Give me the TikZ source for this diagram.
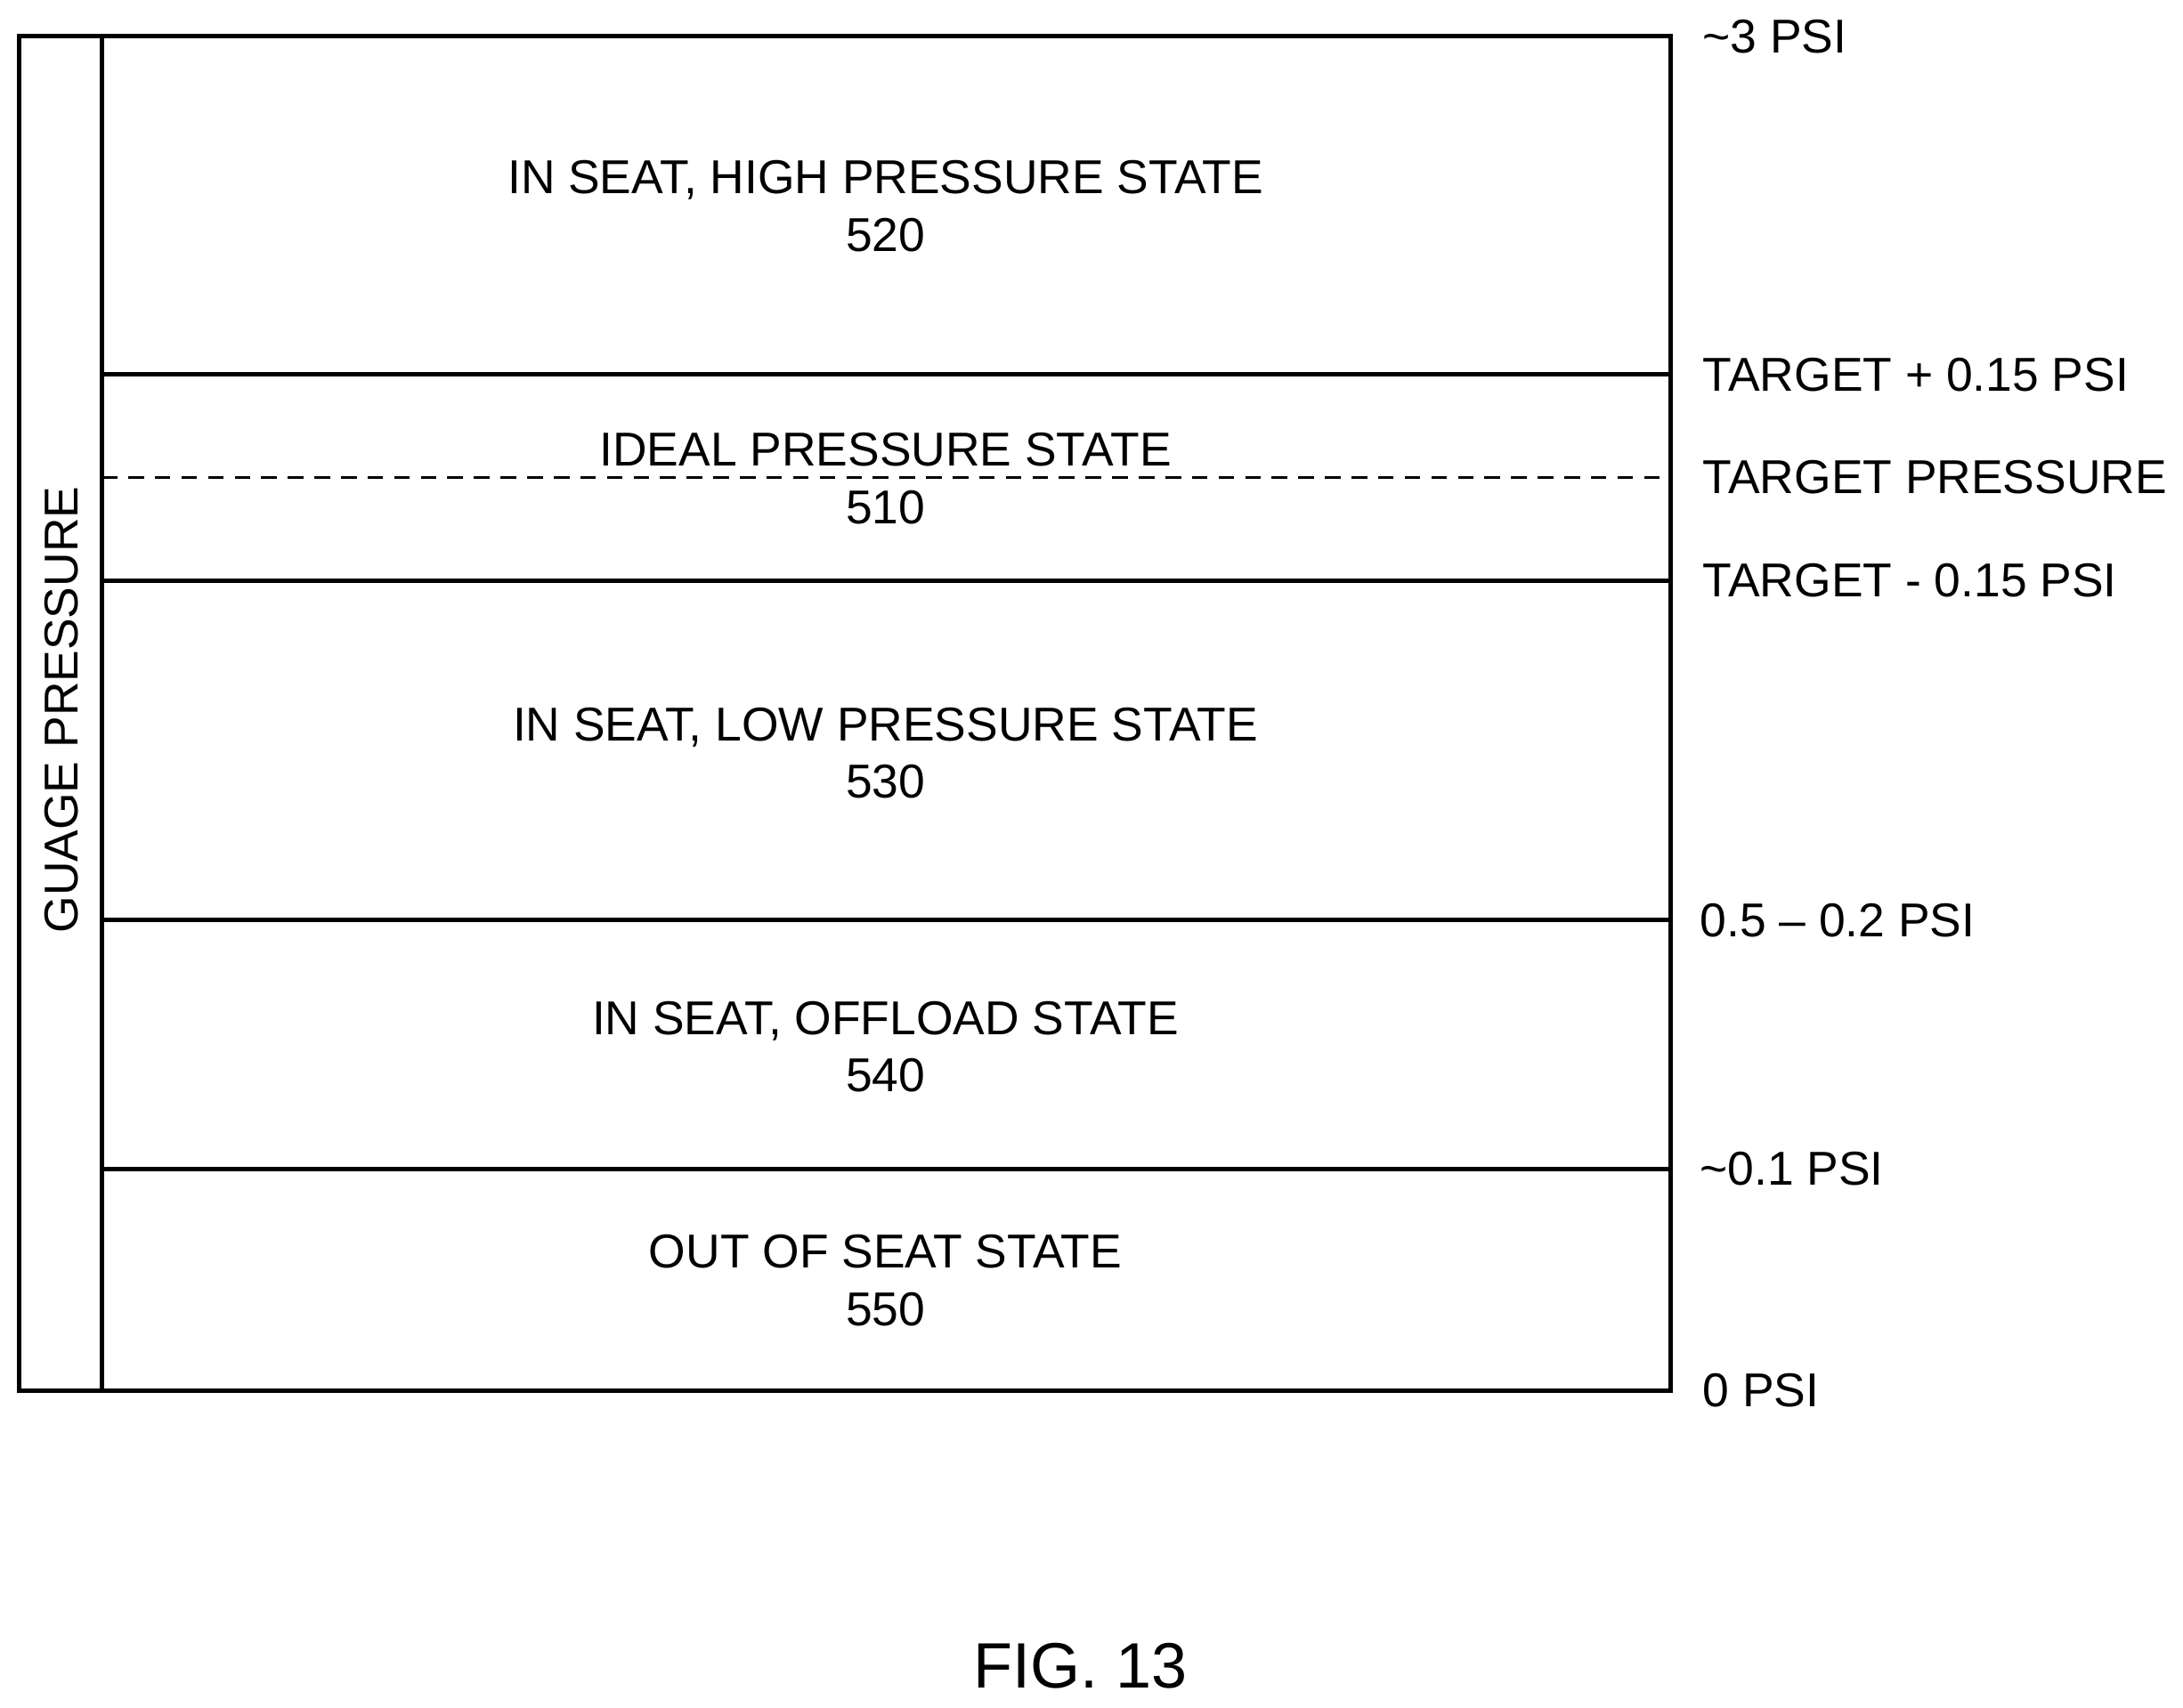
\documentclass[tikz,border=0pt]{standalone}
\usepackage{fontspec}
\setmainfont{Liberation Sans}
\begin{document}
\begin{tikzpicture}[
        x=0.01564cm, y=-0.01564cm,
        line width=1.4pt,
        state/.style={ align=center, font=\fontsize{15.2}{18.4}\selectfont },
        level/.style={ anchor=west, font=\fontsize{15.2}{18.4}\selectfont },
        bound/.style={ line width=1.4pt }
    ]
    \useasboundingbox (0,0) rectangle (1568,1227);

    % outer frame and axis strip
    \draw (14,26) rectangle (1200,999);
    \draw (73,26) -- (73,999);
    \node (axis) [state, rotate=90] at (44,510) {GUAGE PRESSURE};

    % boundaries
    \coordinate (l1) at (73,269);  \coordinate (r1) at (1200,269);
    \coordinate (l2) at (73,343);  \coordinate (r2) at (1200,343);
    \coordinate (l3) at (73,417);  \coordinate (r3) at (1200,417);
    \coordinate (l4) at (73,661);  \coordinate (r4) at (1200,661);
    \coordinate (l5) at (73,840);  \coordinate (r5) at (1200,840);
    \draw [bound] (l1) -- (r1);
    \draw [line width=1pt, dash pattern=on 5pt off 3.5pt] (l2) -- (r2);
    \draw [bound] (l3) -- (r3);
    \draw [bound] (l4) -- (r4);
    \draw [bound] (l5) -- (r5);

    % states
    \node (s520) [state] at (636,148) {IN SEAT, HIGH PRESSURE STATE\\520};
    \node (s510) [state] at (636,344) {IDEAL PRESSURE STATE\\510};
    \node (s530) [state] at (636,541) {IN SEAT, LOW PRESSURE STATE\\530};
    \node (s540) [state] at (636,752) {IN SEAT, OFFLOAD STATE\\540};
    \node (s550) [state] at (636,920) {OUT OF SEAT STATE\\550};

    % pressure levels
    \node (p0) [level] at (1214,26)  {\textasciitilde 3 PSI};
    \node (p1) [level] at (1214,269) {TARGET + 0.15 PSI};
    \node (p2) [level] at (1214,343) {TARGET PRESSURE};
    \node (p3) [level] at (1214,417) {TARGET - 0.15 PSI};
    \node (p4) [level] at (1212,661) {0.5 -- 0.2 PSI};
    \node (p5) [level] at (1212,840) {\textasciitilde 0.1 PSI};
    \node (p6) [level] at (1214,999) {0 PSI};

    \node (fig) [font=\fontsize{20.5}{24}\selectfont] at (776,1197) {FIG. 13};
\end{tikzpicture}
\end{document}
